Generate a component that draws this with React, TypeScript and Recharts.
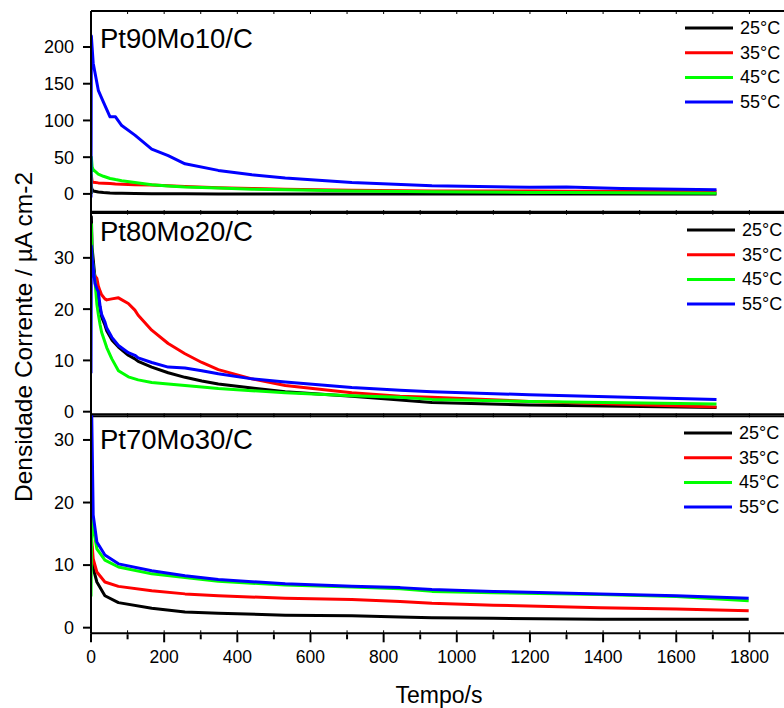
import { Legend, Line, LineChart, XAxis, YAxis } from "recharts";

const FONT = "'Liberation Sans', Arial, Helvetica, sans-serif";

const SERIES = ["25°C", "35°C", "45°C", "55°C"];
const COLORS = ["#000000", "#ff0000", "#00ff00", "#0000ff"];

const X_DOMAIN = [0, 1900];
const X_MAJOR = [0, 200, 400, 600, 800, 1000, 1200, 1400, 1600, 1800];
const X_MINOR = [100, 300, 500, 700, 900, 1100, 1300, 1500, 1700, 1900];
const X_ALL = [...X_MAJOR, ...X_MINOR].sort((a, b) => a - b);

// Pt90Mo10/C
const T_90 = [0, 1, 3, 6, 20, 34, 52, 67, 84, 120, 166, 211, 257, 348, 440, 531, 713, 932, 1198, 1300, 1450, 1710];
const J_90_25 = [0, 10, 6, 4, 2.5, 1.8, 1.2, 1, 0.8, 0.5, 0.3, 0.2, 0.1, 0, 0, 0, 0, 0, 0, 0, 0, 0];
const J_90_35 = [0, 25, 17, 16, 15, 14.5, 14, 13.5, 13.3, 12.5, 12, 11, 10, 8.5, 7.3, 6.4, 5, 4, 3.8, 3.7, 3.6, 3.5];
const J_90_45 = [0, 50, 37, 33, 27, 24, 21, 19.5, 18, 15.5, 12.5, 10.8, 9.5, 8, 6.5, 5.5, 4, 3, 2, 1.8, 1.4, 0.8];
const J_90_55 = [-5, 215, 200, 178, 141, 125, 105, 105, 93, 80, 61, 52, 41, 32, 26, 21.5, 15.5, 11, 9, 9.5, 7.5, 5.5];

// Pt80Mo20/C
const T_80 = [0, 1, 3, 11, 16, 20, 25, 29, 38, 43, 57, 75, 102, 120, 129, 166, 211, 257, 303, 348, 440, 531, 713, 845, 932, 1198, 1710];
const J_80_25 = [38, 38, 32, 26, 24, 22, 20, 18.5, 16.9, 15.8, 14, 12.6, 11, 10.3, 9.8, 8.7, 7.6, 6.7, 6, 5.4, 4.6, 3.9, 3.0, 2.3, 1.8, 1.3, 0.8];
const J_80_35 = [28, 30, 28, 26.5, 26, 24.5, 23.5, 22.8, 22, 21.8, 22, 22.2, 21.1, 19.8, 18.8, 15.9, 13.3, 11.3, 9.6, 8.2, 6.4, 5.1, 3.7, 3.0, 2.8, 2.0, 0.9];
const J_80_45 = [36.5, 36.5, 30, 25.4, 21, 19, 16.9, 15.5, 13.6, 12.5, 10.3, 8.0, 6.8, 6.4, 6.2, 5.7, 5.4, 5.1, 4.8, 4.5, 4.1, 3.7, 3.1, 2.8, 2.4, 2.0, 1.5];
const J_80_55 = [7.5, 32.3, 30, 25, 24, 23.4, 20.5, 19, 17.5, 16.3, 14.5, 12.9, 11.5, 11, 10.5, 9.6, 8.7, 8.5, 8.0, 7.4, 6.4, 5.8, 4.7, 4.2, 3.9, 3.3, 2.4];

// Pt70Mo30/C
const T_70 = [0, 2, 6, 16, 38, 75, 166, 257, 348, 531, 713, 845, 932, 1100, 1392, 1600, 1798];
const J_70_25 = [13, 13, 9.5, 7.3, 5.1, 4.0, 3.1, 2.5, 2.3, 2.0, 1.9, 1.7, 1.6, 1.5, 1.35, 1.35, 1.35];
const J_70_35 = [10, 14, 11, 8.9, 7.3, 6.6, 5.9, 5.4, 5.1, 4.7, 4.5, 4.2, 3.9, 3.6, 3.2, 3.0, 2.7];
const J_70_45 = [5, 18, 16, 12.6, 10.8, 9.7, 8.6, 8.0, 7.4, 6.8, 6.5, 6.2, 5.8, 5.6, 5.3, 5.0, 4.3];
const J_70_55 = [34, 34, 18, 13.7, 11.6, 10.2, 9.1, 8.3, 7.7, 7.0, 6.6, 6.4, 6.1, 5.8, 5.4, 5.1, 4.7];

const zip = (t: number[], v: number[]) => t.map((x, i) => ({ t: x, v: v[i] }));

function LegendBox({ payload }: { payload?: { value: string; color: string }[] }) {
  const items = payload ?? [];
  return (
    <svg width={110} height={100} style={{ display: "block", overflow: "visible" }}>
      {items.map((p, i) => {
        const cy = 12 + i * 24.7;
        return (
          <g key={p.value}>
            <line x1={0} x2={48} y1={cy} y2={cy} stroke={p.color} strokeWidth={3} />
            <text x={55} y={cy} dominantBaseline="central" fontSize={18} fill="#000" fontFamily={FONT}>
              {p.value}
            </text>
          </g>
        );
      })}
    </svg>
  );
}

type PanelProps = {
  t: number[];
  series: number[][];
  yDomain: number[];
  yTicks: number[];
  top: number;
  height: number;
  marginTop: number;
  marginBottom: number;
  legendTop: number;
  legendLeft: number;
  last?: boolean;
};

const noLabel = () => "";

function Panel(p: PanelProps) {
  // every x axis is 1px high so recharts still draws it; margins compensate
  const bottomAxes = p.last ? 3 : 1;
  return (
    <div style={{ position: "absolute", left: 0, top: p.top, width: 800, height: p.height }}>
      <LineChart
        width={800}
        height={p.height}
        margin={{ top: p.marginTop - 1, right: 14, bottom: p.marginBottom - bottomAxes, left: 0 }}
      >
        <XAxis
          xAxisId="top"
          orientation="top"
          type="number"
          dataKey="t"
          domain={X_DOMAIN}
          allowDataOverflow
          ticks={X_ALL}
          interval={0}
          mirror
          tickSize={3}
          tickFormatter={noLabel}
          height={1}
          stroke="#000"
          axisLine={{ strokeWidth: 2 }}
        />
        <XAxis
          xAxisId="bottom"
          type="number"
          dataKey="t"
          domain={X_DOMAIN}
          allowDataOverflow
          ticks={X_ALL}
          interval={0}
          mirror
          tickSize={3}
          tickFormatter={noLabel}
          height={1}
          stroke="#000"
          axisLine={{ strokeWidth: 2 }}
        />
        {p.last && (
          <XAxis
            xAxisId="major"
            type="number"
            dataKey="t"
            domain={X_DOMAIN}
            allowDataOverflow
            ticks={X_MAJOR}
            interval={0}
            tickSize={9}
            tickMargin={8}
            height={1}
            axisLine={false}
            stroke="#000"
            tickLine={{ strokeWidth: 2 }}
            tick={{ fontSize: 17.5, fill: "#000", fontFamily: FONT }}
          />
        )}
        {p.last && (
          <XAxis
            xAxisId="minor"
            type="number"
            dataKey="t"
            domain={X_DOMAIN}
            allowDataOverflow
            ticks={X_MINOR}
            interval={0}
            tickSize={5}
            tickFormatter={noLabel}
            height={1}
            axisLine={false}
            stroke="#000"
            tickLine={{ strokeWidth: 2 }}
          />
        )}
        <YAxis
          type="number"
          domain={p.yDomain}
          allowDataOverflow
          ticks={p.yTicks}
          interval={0}
          width={91}
          tickSize={8}
          tickMargin={9}
          stroke="#000"
          axisLine={{ strokeWidth: 2 }}
          tickLine={{ strokeWidth: 2 }}
          tick={{ fontSize: 18, fill: "#000", fontFamily: FONT }}
        />
        <Legend
          layout="horizontal"
          verticalAlign="middle"
          align="center"
          wrapperStyle={{ top: p.legendTop, left: p.legendLeft, width: 110, height: 100 }}
          content={LegendBox as any}
        />
        {p.series.map((s, i) => (
          <Line
            key={SERIES[i]}
            xAxisId="bottom"
            data={zip(p.t, s)}
            dataKey="v"
            name={SERIES[i]}
            type="linear"
            stroke={COLORS[i]}
            strokeWidth={3}
            strokeLinejoin="round"
            dot={false}
            activeDot={false}
            isAnimationActive={false}
          />
        ))}
      </LineChart>
    </div>
  );
}

export default function App() {
  return (
    <div
      style={{
        position: "fixed",
        left: 0,
        top: 0,
        width: 784,
        height: 708,
        overflow: "hidden",
        background: "#fff",
        fontFamily: FONT,
      }}
    >
      <Panel
        t={T_90}
        series={[J_90_25, J_90_35, J_90_45, J_90_55]}
        yDomain={[-26, 249]}
        yTicks={[0, 50, 100, 150, 200]}
        top={0}
        height={225}
        marginTop={12}
        marginBottom={13}
        legendTop={16}
        legendLeft={685}
      />
      <Panel
        t={T_80}
        series={[J_80_25, J_80_35, J_80_45, J_80_55]}
        yDomain={[-0.9, 39]}
        yTicks={[0, 10, 20, 30]}
        top={200}
        height={230}
        marginTop={12.7}
        marginBottom={14.7}
        legendTop={18}
        legendLeft={687}
      />
      <Panel
        t={T_70}
        series={[J_70_25, J_70_35, J_70_45, J_70_55]}
        yDomain={[-0.9, 34.1]}
        yTicks={[0, 10, 20, 30]}
        top={400}
        height={308}
        marginTop={15.3}
        marginBottom={75.7}
        legendTop={21.3}
        legendLeft={684}
        last
      />
      <svg
        width={784}
        height={708}
        style={{ position: "absolute", left: 0, top: 0, pointerEvents: "none" }}
        fontFamily={FONT}
      >
        <text x={100} y={48} fontSize={27.5} fill="#000">Pt90Mo10/C</text>
        <text x={100} y={241} fontSize={27.5} fill="#000">Pt80Mo20/C</text>
        <text x={100} y={449} fontSize={27.5} fill="#000">Pt70Mo30/C</text>
        <text
          x={23}
          y={337}
          fontSize={24.5}
          fill="#000"
          textAnchor="middle"
          dominantBaseline="central"
          transform="rotate(-90 23 337)"
        >
          Densidade Corrente / µA cm-2
        </text>
        <text x={439} y={703} fontSize={23} fill="#000" textAnchor="middle">
          Tempo/s
        </text>
      </svg>
    </div>
  );
}
